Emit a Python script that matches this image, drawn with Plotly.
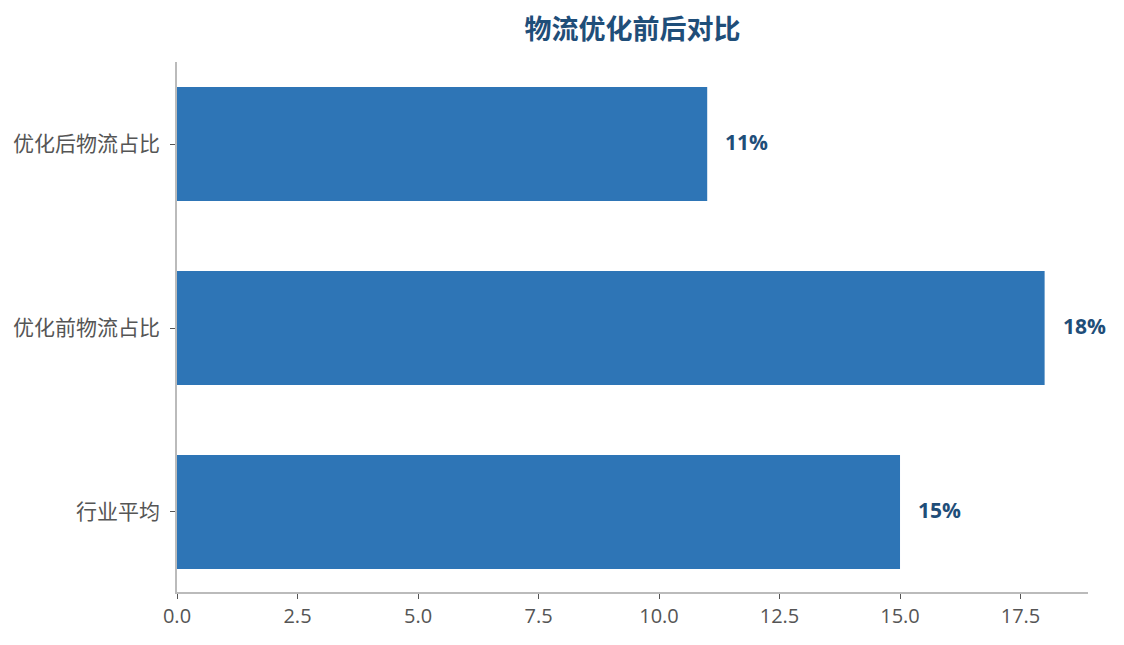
import plotly.graph_objects as go

categories = ["行业平均", "优化前物流占比", "优化后物流占比"]
values = [15, 18, 11]
labels = ["15%", "18%", "11%"]

font_family = "Open Sans, Noto Sans CJK SC, sans-serif"

fig = go.Figure()
fig.add_trace(go.Bar(
    y=categories,
    x=values,
    orientation="h",
    marker=dict(color="#2e75b6", line=dict(width=0)),
    width=0.62,
    hoverinfo="skip",
))

for c, v, t in zip(categories, values, labels):
    fig.add_annotation(
        x=v, y=c, text=f"<b>{t}</b>", showarrow=False,
        xanchor="left", xshift=16, yshift=2,
        font=dict(family=font_family, size=21, color="#1f4e79"),
    )

fig.update_layout(
    width=1124, height=645,
    margin=dict(l=169, r=44, t=54, b=61),
    paper_bgcolor="white", plot_bgcolor="white",
    title=dict(
        text="<b>物流优化前后对比</b>",
        x=(169 + 1080) / 2 / 1124, xanchor="center",
        y=1 - 22 / 645, yanchor="middle",
        font=dict(family=font_family, size=27, color="#1f4e79"),
    ),
    showlegend=False,
    font=dict(family=font_family, size=18, color="#555555"),
)

fig.update_xaxes(
    range=[0, 18.9],
    tickvals=[0, 2.5, 5, 7.5, 10, 12.5, 15, 17.5],
    ticktext=["0.0", "2.5", "5.0", "7.5", "10.0", "12.5", "15.0", "17.5"],
    showgrid=False, zeroline=False,
    showline=True, linecolor="#bbbbbb", linewidth=1.5,
    ticks="outside", ticklen=5, tickcolor="#555555",
    tickfont=dict(size=20, color="#555555"),
    automargin=False,
)
fig.update_yaxes(
    range=[-0.435, 2.446],
    showgrid=False, zeroline=False,
    showline=True, linecolor="#bbbbbb", linewidth=1.5,
    ticks="outside", ticklen=5, tickcolor="#555555",
    ticklabelstandoff=6,
    tickfont=dict(size=21, color="#555555"),
    automargin=False,
)

fig.write_html("out.html")
